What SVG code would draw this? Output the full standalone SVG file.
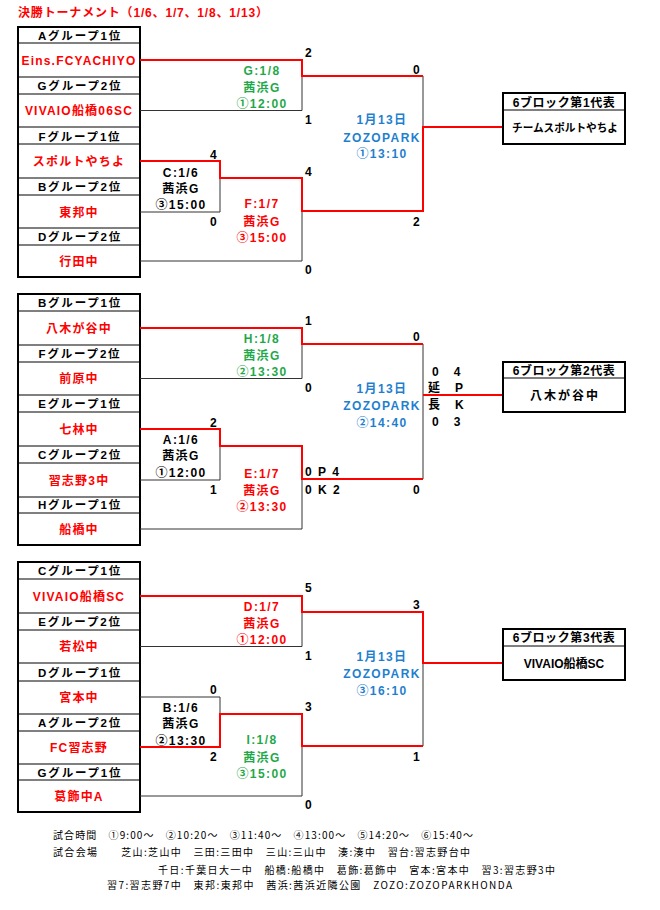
<svg xmlns="http://www.w3.org/2000/svg" width="660" height="910" viewBox="0 0 660 910">
<style>
text{font-family:"Liberation Sans","Noto Sans CJK JP",sans-serif;font-weight:bold}
.hd{font-size:11.5px;letter-spacing:1.8px;fill:#000;text-anchor:middle}
.tm{font-size:12px;letter-spacing:1.2px;fill:#f00;text-anchor:middle}
.sc{font-size:12px;fill:#000;letter-spacing:1.5px}
.lb{font-size:12px;letter-spacing:1.4px;text-anchor:middle}
.red{fill:#f00}.grn{fill:#1fa84a}.blu{fill:#1f7fcf}.blk{fill:#000}
.ln{stroke:#333;stroke-width:1;fill:none}
.rl{stroke:#f00;stroke-width:2;fill:none}
.box{fill:#fff;stroke:#000;stroke-width:2}
.sep{stroke:#000;stroke-width:1}
.rh{font-size:12px;letter-spacing:0.6px;fill:#000;text-anchor:middle}
.rb{font-size:11px;fill:#000;text-anchor:middle}
.ft{font-family:"Noto Sans CJK JP",sans-serif;font-weight:normal;font-size:10px;fill:#000}
</style>
<rect width="660" height="910" fill="#fff"/>
<text id="title" x="18" y="16.5" class="red" style="font-size:12px" textLength="250" lengthAdjust="spacing">決勝トーナメント（1/6、1/7、1/8、1/13）</text>

<!-- Block 1 teams -->
<g id="block1-teams">
<rect class="box" x="18" y="27" width="122" height="250"/>
<line class="sep" x1="18" y1="43" x2="140" y2="43"/><line class="sep" x1="18" y1="77" x2="140" y2="77"/>
<line class="sep" x1="18" y1="94" x2="140" y2="94"/><line class="sep" x1="18" y1="127" x2="140" y2="127"/>
<line class="sep" x1="18" y1="144" x2="140" y2="144"/><line class="sep" x1="18" y1="178" x2="140" y2="178"/>
<line class="sep" x1="18" y1="195" x2="140" y2="195"/><line class="sep" x1="18" y1="228" x2="140" y2="228"/>
<line class="sep" x1="18" y1="245" x2="140" y2="245"/>
<text class="hd" x="80" y="39.5">Aグループ1位</text>
<text class="tm" x="79" y="64.5">Eins.FCYACHIYO</text>
<text class="hd" x="80" y="90">Gグループ2位</text>
<text class="tm" x="79" y="115">VIVAIO船橋06SC</text>
<text class="hd" x="80" y="140.5">Fグループ1位</text>
<text class="tm" x="79" y="165.5">スポルトやちよ</text>
<text class="hd" x="80" y="191">Bグループ2位</text>
<text class="tm" x="79" y="216.5">東邦中</text>
<text class="hd" x="80" y="241">Dグループ2位</text>
<text class="tm" x="79" y="265.5">行田中</text>
</g>

<!-- Block 2 teams -->
<g id="block2-teams">
<rect class="box" x="18" y="294" width="122" height="251"/>
<line class="sep" x1="18" y1="311" x2="140" y2="311"/><line class="sep" x1="18" y1="345" x2="140" y2="345"/>
<line class="sep" x1="18" y1="362" x2="140" y2="362"/><line class="sep" x1="18" y1="395" x2="140" y2="395"/>
<line class="sep" x1="18" y1="412" x2="140" y2="412"/><line class="sep" x1="18" y1="446" x2="140" y2="446"/>
<line class="sep" x1="18" y1="463" x2="140" y2="463"/><line class="sep" x1="18" y1="497" x2="140" y2="497"/>
<line class="sep" x1="18" y1="513" x2="140" y2="513"/>
<text class="hd" x="80" y="307">Bグループ1位</text>
<text class="tm" x="79" y="332.5">八木が谷中</text>
<text class="hd" x="80" y="357.5">Fグループ2位</text>
<text class="tm" x="79" y="383">前原中</text>
<text class="hd" x="80" y="408">Eグループ1位</text>
<text class="tm" x="79" y="433.5">七林中</text>
<text class="hd" x="80" y="459">Cグループ2位</text>
<text class="tm" x="79" y="484.5">習志野3中</text>
<text class="hd" x="80" y="509">Hグループ1位</text>
<text class="tm" x="79" y="533.5">船橋中</text>
</g>

<!-- Block 3 teams -->
<g id="block3-teams">
<rect class="box" x="18" y="562" width="122" height="250"/>
<line class="sep" x1="18" y1="579" x2="140" y2="579"/><line class="sep" x1="18" y1="613" x2="140" y2="613"/>
<line class="sep" x1="18" y1="630" x2="140" y2="630"/><line class="sep" x1="18" y1="663" x2="140" y2="663"/>
<line class="sep" x1="18" y1="681" x2="140" y2="681"/><line class="sep" x1="18" y1="714" x2="140" y2="714"/>
<line class="sep" x1="18" y1="731" x2="140" y2="731"/><line class="sep" x1="18" y1="764" x2="140" y2="764"/>
<line class="sep" x1="18" y1="780" x2="140" y2="780"/>
<text class="hd" x="80" y="575">Cグループ1位</text>
<text class="tm" x="79" y="600.5">VIVAIO船橋SC</text>
<text class="hd" x="80" y="626">Eグループ2位</text>
<text class="tm" x="79" y="651">若松中</text>
<text class="hd" x="80" y="676.5">Dグループ1位</text>
<text class="tm" x="79" y="701.5">宮本中</text>
<text class="hd" x="80" y="727">Aグループ2位</text>
<text class="tm" x="79" y="751.5">FC習志野</text>
<text class="hd" x="80" y="776.5">Gグループ1位</text>
<text class="tm" x="79" y="800.5">葛飾中A</text>
</g>

<!-- Connectors -->
<g id="connectors">
<!-- block 1 -->
<path class="ln" d="M140,110.5 H302 V76"/>
<path class="ln" d="M140,212 H220 V178"/>
<path class="ln" d="M140,261 H302 V211"/>
<path class="ln" d="M423,76 V127"/>
<path class="rl" d="M140,60 H302 V76 H423"/>
<path class="rl" d="M140,161 H220 V178 H302 V211 H423 V127 H503"/>
<!-- block 2 -->
<path class="ln" d="M140,378.5 H302 V344"/>
<path class="ln" d="M140,480 H220 V446"/>
<path class="ln" d="M140,529 H302 V479"/>
<path class="ln" d="M423,344 V479"/>
<path class="rl" d="M140,328 H302 V344 H423"/>
<path class="rl" d="M140,429 H220 V446 H302 V479 H423"/>
<path class="rl" d="M423,395 H503"/>
<!-- block 3 -->
<path class="ln" d="M140,646.5 H302 V612"/>
<path class="ln" d="M140,697 H220 V714"/>
<path class="ln" d="M140,796 H302 V746"/>
<path class="ln" d="M423,663 V746"/>
<path class="rl" d="M140,596 H302 V612 H423 V663 H503"/>
<path class="rl" d="M140,747 H220 V714 H302 V746 H423"/>
</g>

<!-- Match labels block 1 -->
<g id="match-G"><text class="lb grn" x="262" y="74.5">G:1/8</text><text class="lb grn" x="262" y="91.5">茜浜G</text><text class="lb grn" x="262" y="108">①12:00</text></g>
<g id="match-C"><text class="lb blk" x="181" y="176.5">C:1/6</text><text class="lb blk" x="181" y="192.5">茜浜G</text><text class="lb blk" x="181" y="209">③15:00</text></g>
<g id="match-F"><text class="lb red" x="262" y="207.5">F:1/7</text><text class="lb red" x="262" y="225.5">茜浜G</text><text class="lb red" x="262" y="242">③15:00</text></g>
<g id="final-1"><text class="lb blu" x="382" y="123.5">1月13日</text><text class="lb blu" x="382" y="141.5">ZOZOPARK</text><text class="lb blu" x="382" y="158">①13:10</text></g>

<!-- Match labels block 2 -->
<g id="match-H"><text class="lb grn" x="262" y="342.5">H:1/8</text><text class="lb grn" x="262" y="359.5">茜浜G</text><text class="lb grn" x="262" y="376">②13:30</text></g>
<g id="match-A"><text class="lb blk" x="181" y="443.5">A:1/6</text><text class="lb blk" x="181" y="459.5">茜浜G</text><text class="lb blk" x="181" y="477">①12:00</text></g>
<g id="match-E"><text class="lb red" x="262" y="477.5">E:1/7</text><text class="lb red" x="262" y="494.5">茜浜G</text><text class="lb red" x="262" y="511">②13:30</text></g>
<g id="final-2"><text class="lb blu" x="382" y="392.5">1月13日</text><text class="lb blu" x="382" y="409.5">ZOZOPARK</text><text class="lb blu" x="382" y="427">②14:40</text></g>

<!-- Match labels block 3 -->
<g id="match-D"><text class="lb red" x="262" y="610.5">D:1/7</text><text class="lb red" x="262" y="627.5">茜浜G</text><text class="lb red" x="262" y="644">①12:00</text></g>
<g id="match-B"><text class="lb blk" x="181" y="711.5">B:1/6</text><text class="lb blk" x="181" y="727.5">茜浜G</text><text class="lb blk" x="181" y="745">②13:30</text></g>
<g id="match-I"><text class="lb grn" x="262" y="743.5">I:1/8</text><text class="lb grn" x="262" y="761.5">茜浜G</text><text class="lb grn" x="262" y="778">③15:00</text></g>
<g id="final-3"><text class="lb blu" x="382" y="660.5">1月13日</text><text class="lb blu" x="382" y="677.5">ZOZOPARK</text><text class="lb blu" x="382" y="695">③16:10</text></g>

<!-- Scores -->
<g id="scores">
<text class="sc" x="305" y="57">2</text><text class="sc" x="305" y="124">1</text>
<text class="sc" x="210" y="159">4</text><text class="sc" x="210" y="226">0</text>
<text class="sc" x="305" y="176">4</text><text class="sc" x="305" y="274">0</text>
<text class="sc" x="413" y="74">0</text><text class="sc" x="413" y="226">2</text>

<text class="sc" x="305" y="325">1</text><text class="sc" x="305" y="392">0</text>
<text class="sc" x="210" y="427">2</text><text class="sc" x="210" y="494">1</text>
<text class="sc" x="305" y="476">0 P 4</text><text class="sc" x="305" y="494">0 K 2</text>
<text class="sc" x="413" y="341">0</text><text class="sc" x="413" y="494">0</text>
<text class="sc" x="432" y="376">0　4</text><text class="sc" x="428" y="392">延　P</text>
<text class="sc" x="428" y="409">長　K</text><text class="sc" x="432" y="426">0　3</text>

<text class="sc" x="305" y="592">5</text><text class="sc" x="305" y="660">1</text>
<text class="sc" x="210" y="694">0</text><text class="sc" x="210" y="761">2</text>
<text class="sc" x="305" y="711">3</text><text class="sc" x="305" y="809">0</text>
<text class="sc" x="413" y="609">3</text><text class="sc" x="413" y="761">1</text>
</g>

<!-- Result boxes -->
<g id="result-1">
<rect class="box" x="503" y="93" width="122" height="51"/>
<line class="sep" x1="503" y1="110" x2="625" y2="110"/>
<text class="rh" x="564" y="106.5">6ブロック第1代表</text>
<text class="rb" x="565" y="131.5" textLength="106" lengthAdjust="spacingAndGlyphs">チームスポルトやちよ</text>
</g>
<g id="result-2">
<rect class="box" x="503" y="362" width="122" height="50"/>
<line class="sep" x1="503" y1="378" x2="625" y2="378"/>
<text class="rh" x="564" y="374.5">6ブロック第2代表</text>
<text class="rb" x="565" y="399.5" style="font-size:12px;letter-spacing:2px">八木が谷中</text>
</g>
<g id="result-3">
<rect class="box" x="503" y="629" width="122" height="51"/>
<line class="sep" x1="503" y1="646" x2="625" y2="646"/>
<text class="rh" x="564" y="641.5">6ブロック第3代表</text>
<text class="rb" x="564" y="667.5" style="font-size:12px">VIVAIO船橋SC</text>
</g>

<!-- Footer -->
<g id="footer">
<text class="ft" x="53" y="839" textLength="420" lengthAdjust="spacing">試合時間　①9:00～　②10:20～　③11:40～　④13:00～　⑤14:20～　⑥15:40～</text>
<text class="ft" x="53" y="856" textLength="417" lengthAdjust="spacing">試合会場　　芝山:芝山中　三田:三田中　三山:三山中　湊:湊中　習台:習志野台中</text>
<text class="ft" x="158" y="874" textLength="397" lengthAdjust="spacing">千日:千葉日大一中　船橋:船橋中　葛飾:葛飾中　宮本:宮本中　習3:習志野3中</text>
<text class="ft" x="107" y="889" textLength="405" lengthAdjust="spacing">習7:習志野7中　東邦:東邦中　茜浜:茜浜近隣公園　ZOZO:ZOZOPARKHONDA</text>
</g>
</svg>
